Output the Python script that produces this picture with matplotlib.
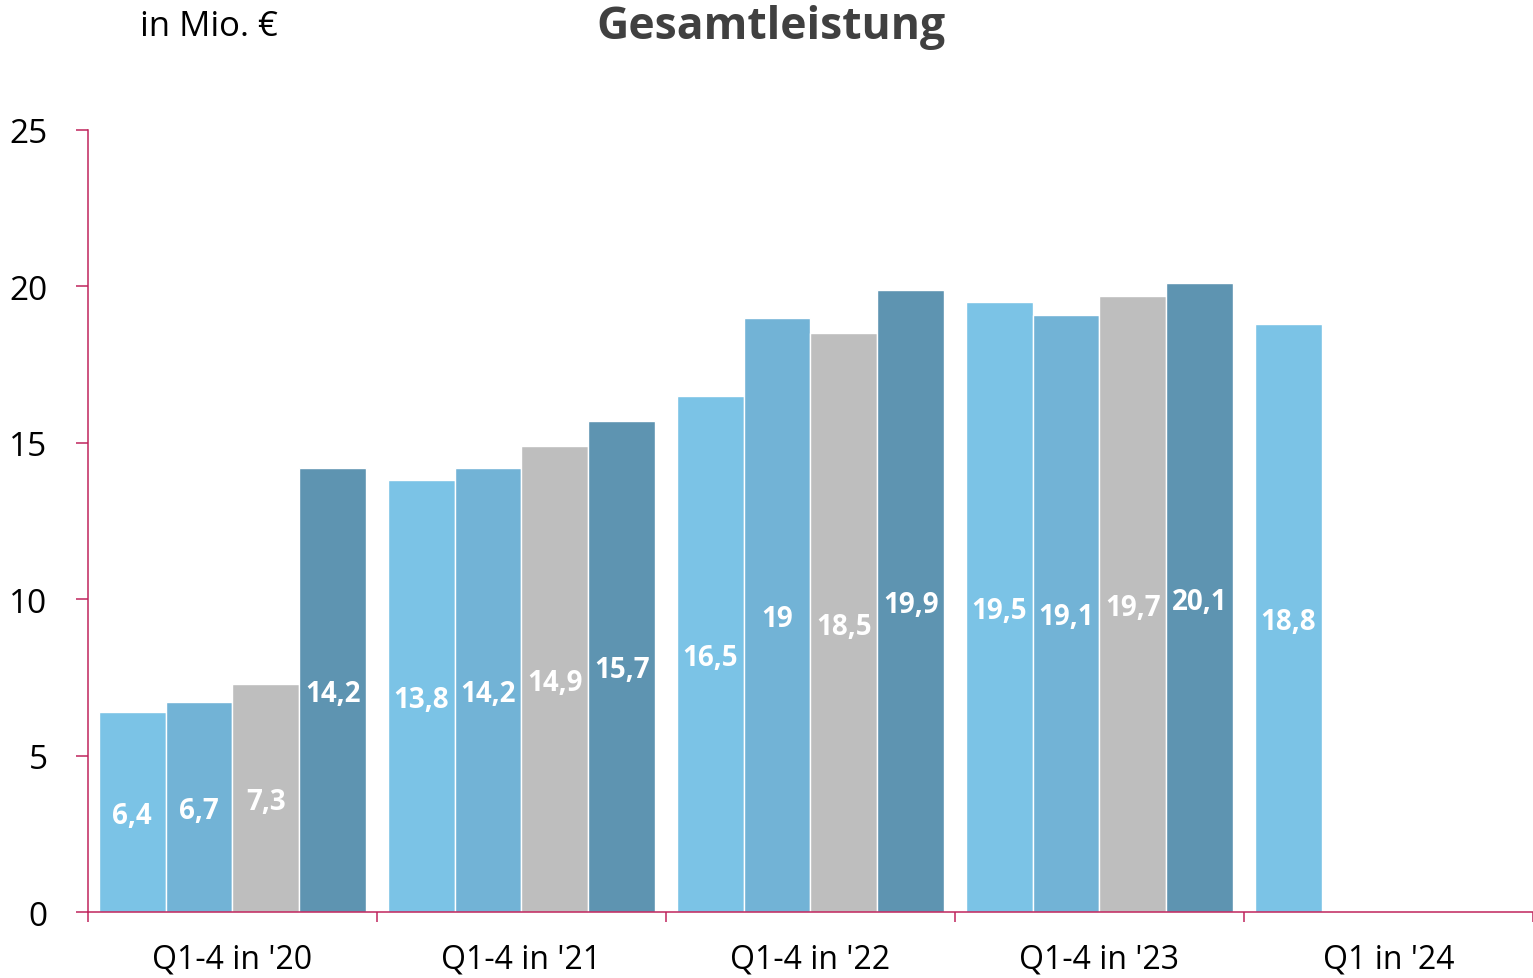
import numpy as np
import matplotlib
matplotlib.use("Agg")
import matplotlib.pyplot as plt

plt.rcParams['font.family'] = ['Open Sans', 'DejaVu Sans']

# data
groups = ["Q1-4 in '20", "Q1-4 in '21", "Q1-4 in '22", "Q1-4 in '23", "Q1 in '24"]
q1 = [6.4, 13.8, 16.5, 19.5, 18.8]
q2 = [6.7, 14.2, 19.0, 19.1, np.nan]
q3 = [7.3, 14.9, 18.5, 19.7, np.nan]
q4 = [14.2, 15.7, 19.9, 20.1, np.nan]
series = [q1, q2, q3, q4]
colors = ['#7BC3E6', '#72B3D6', '#BEBEBE', '#5E94B1']
yticks = [0, 5, 10, 15, 20, 25]

axis_col = '#C0245C'

fig = plt.figure(figsize=(15.33, 9.79), dpi=100)
ax = fig.add_axes([0.0574, 0.0674, 0.9426, 0.7988])

x = np.arange(len(groups))
w = 0.2315
for i, (vals, col) in enumerate(zip(series, colors)):
    pos = x + (i - 1.5) * w
    bars = ax.bar(pos, vals, width=w, color=col, edgecolor='white', linewidth=1)
    for b, v in zip(bars, vals):
        if np.isnan(v):
            continue
        txt = ('%g' % v).replace('.', ',')
        ax.text(b.get_x() + b.get_width() / 2, v / 2, txt, ha='center',
                va='center_baseline', color='white', fontsize=20, fontweight='bold')

ax.set_xlim(-0.5, len(groups) - 0.5)
ax.set_ylim(0, 25)
ax.set_yticks(yticks)
ax.set_yticklabels([str(t) for t in yticks], fontsize=24)
ax.set_xticks(x)
ax.set_xticklabels(groups, fontsize=23)
ax.set_xticks(np.arange(len(groups) + 1) - 0.5, minor=True)
ax.tick_params(axis='x', which='major', length=0, pad=22)
ax.tick_params(axis='x', which='minor', length=7, width=1.1, color=axis_col)
ax.tick_params(axis='y', length=9, width=1.1, color=axis_col, pad=20)

for s in ['top', 'right']:
    ax.spines[s].set_visible(False)
for s in ['left', 'bottom']:
    ax.spines[s].set_color(axis_col)
    ax.spines[s].set_linewidth(1.1)

fig.text(0.503, 0.972, 'Gesamtleistung', ha='center', va='center',
         fontsize=32, fontweight='bold', color='#404040')
fig.text(0.136, 0.972, 'in Mio. €', ha='center', va='center', fontsize=25, color='black')

fig.savefig('out.png', dpi=100)
